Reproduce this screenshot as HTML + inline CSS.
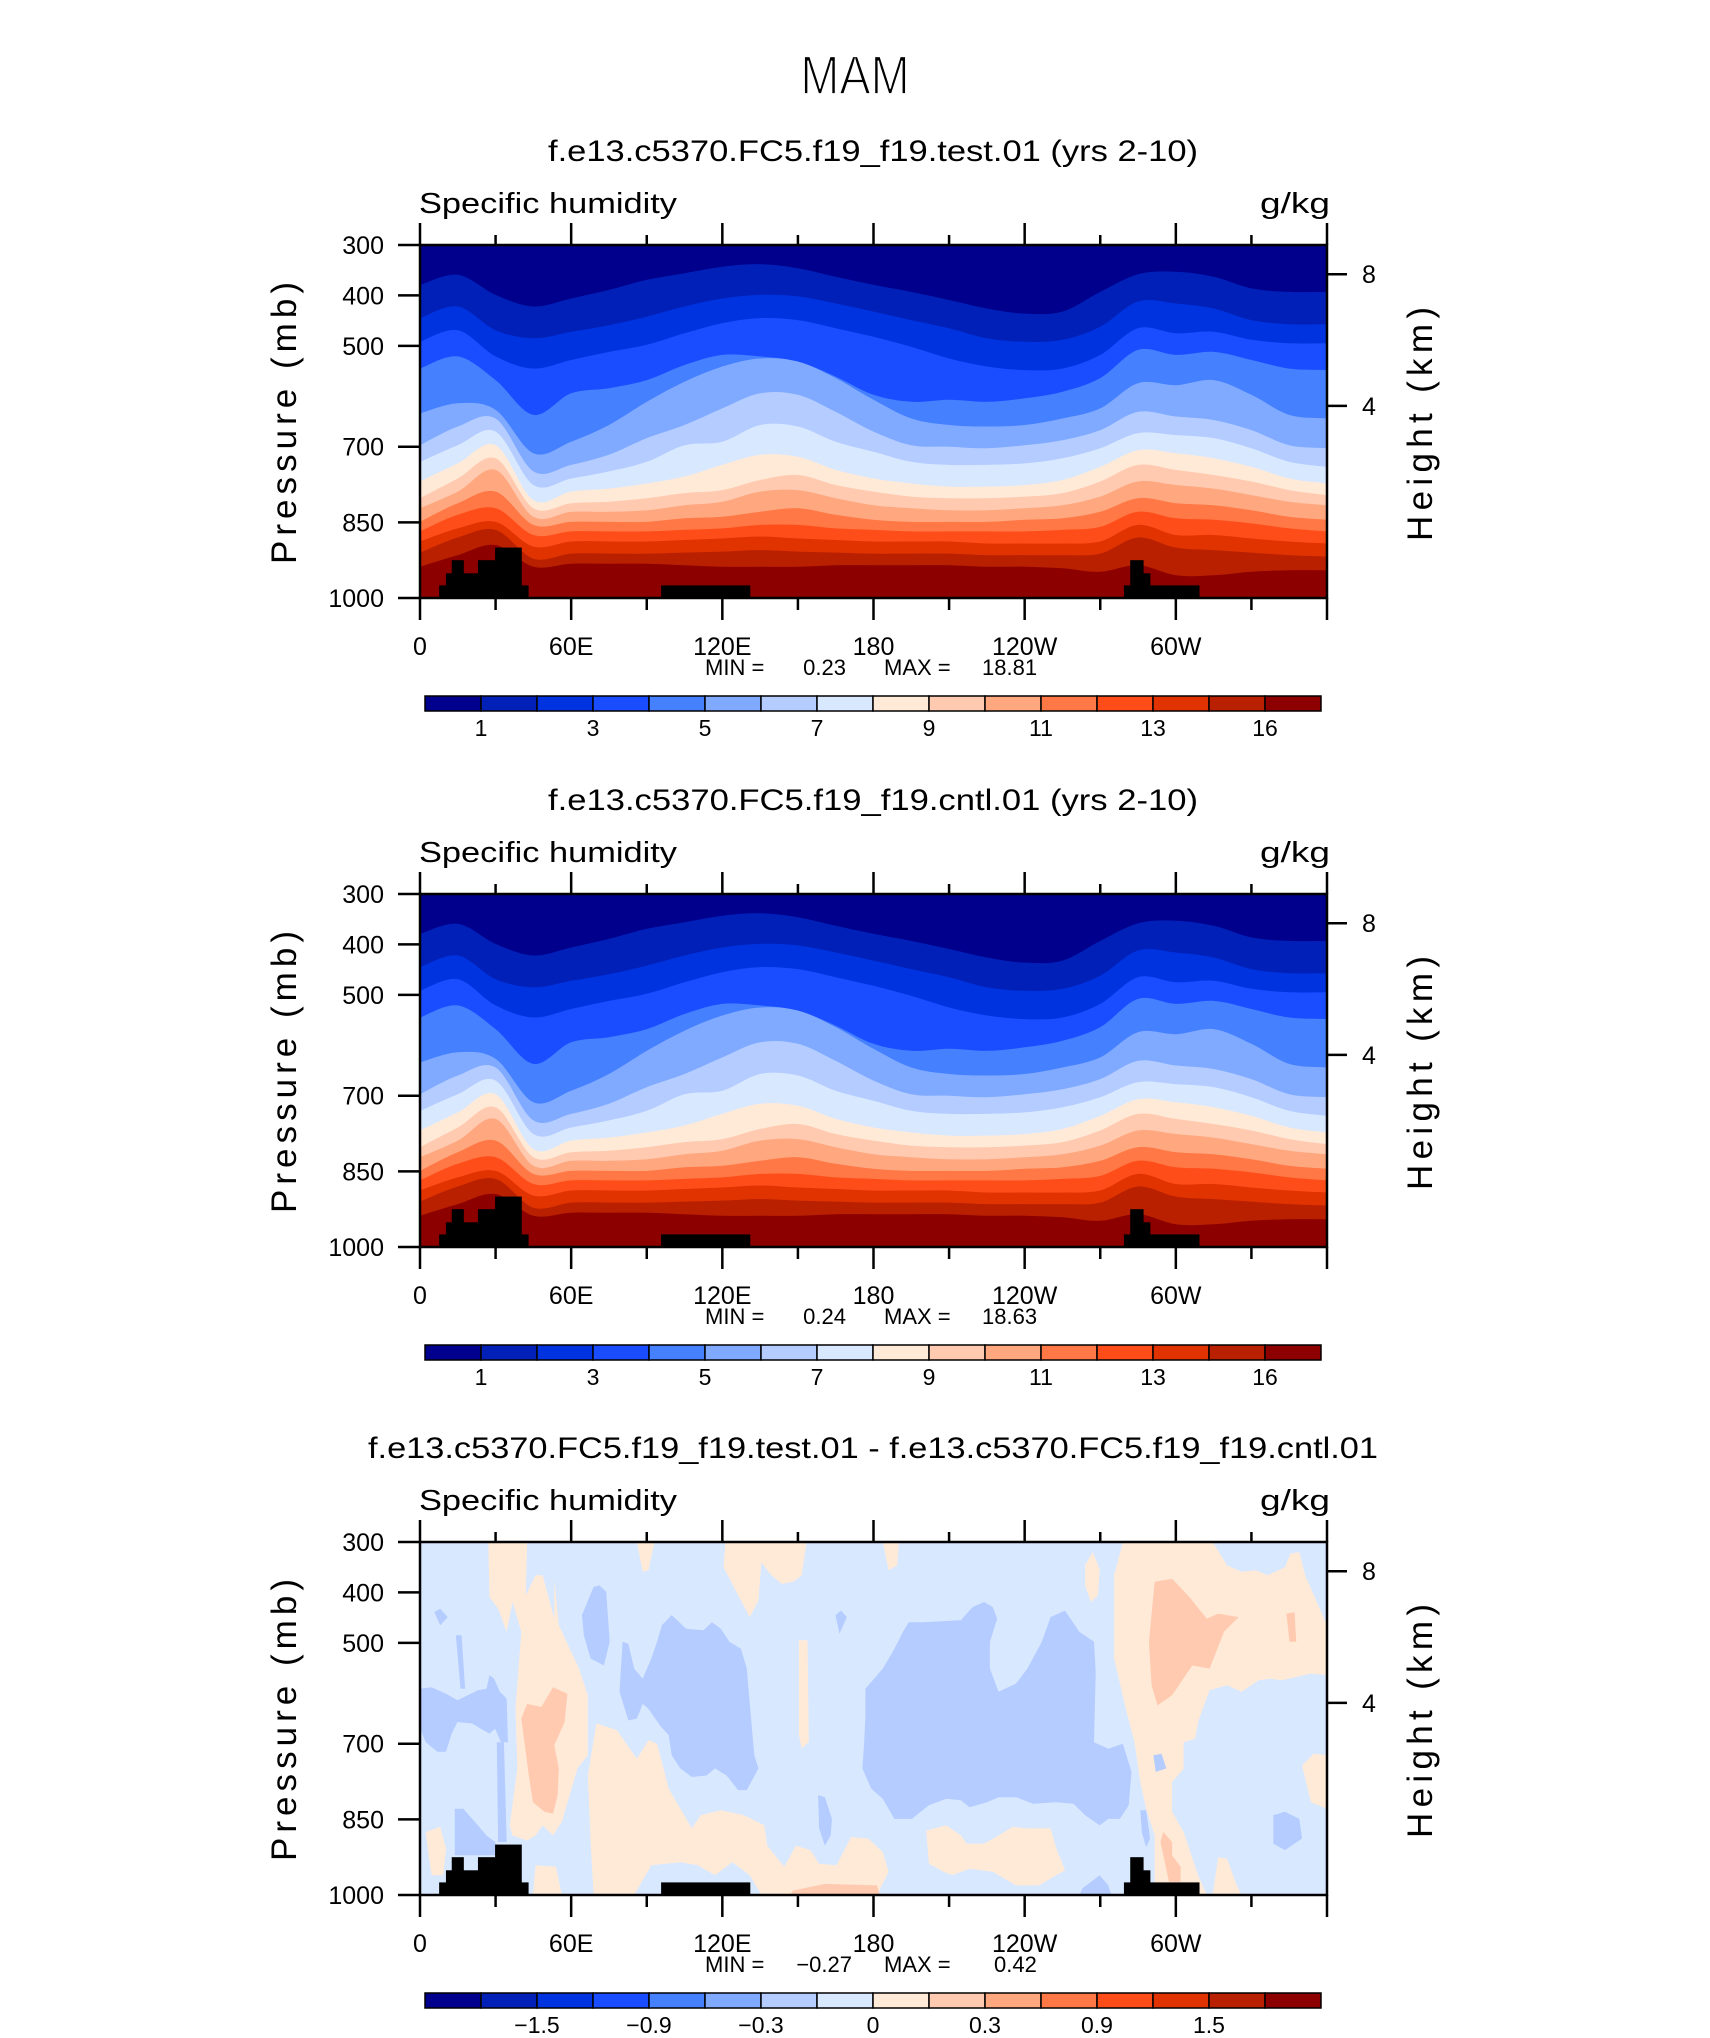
<!DOCTYPE html>
<html><head><meta charset="utf-8"><style>
html,body{margin:0;padding:0;background:#fff;}
svg{display:block;font-family:"Liberation Sans","DejaVu Sans",sans-serif;}
</style></head><body>
<svg id="fig" width="1710" height="2038" viewBox="0 0 1710 2038" xmlns="http://www.w3.org/2000/svg">
<rect width="1710" height="2038" fill="#fff"/>
<text x="855" y="94" font-size="52" text-anchor="middle" fill="#000" stroke="#fff" stroke-width="1.6" transform="translate(855,94) scale(0.9,1.05) translate(-855,-94)">MAM</text>
</svg>
<script>
// ---- data ----
const lons = [0,15,30,45,60,75,90,105,120,135,150,165,180,195,210,225,240,255,270,285,300,315,330,345,360];
const b1 = [379,359,399,422,406,389,369,356,343,338,346,363,379,393,409,426,436,432,393,358,353,363,386,393,393];
const b2 = [445,422,469,485,472,459,442,422,406,399,402,416,432,449,465,485,492,488,462,412,416,426,449,457,457];
const b3 = [492,469,521,545,528,512,498,475,455,445,449,465,482,502,525,541,548,545,518,465,475,472,488,495,495];
const b4 = [545,521,568,637,594,584,568,538,518,521,531,561,597,611,607,611,604,591,564,508,518,512,528,545,548];
const b5 = [634,614,627,713,690,657,611,571,541,525,531,564,607,644,657,660,657,644,624,574,578,568,597,637,644];
const b6 = [697,660,644,749,736,716,683,657,624,594,597,631,670,697,700,703,697,687,667,631,640,647,667,697,703];
const b7 = [730,697,670,776,763,749,730,697,690,657,660,690,710,730,736,736,733,723,703,673,677,683,703,730,740];
const b8 = [769,733,697,806,789,783,773,759,736,716,720,746,763,773,779,779,776,766,740,707,713,723,740,763,773];
const b9 = [802,763,723,822,812,809,802,792,786,766,756,776,789,799,802,802,799,792,769,736,746,756,769,786,796];
const b10 = [822,789,746,839,829,829,826,816,809,789,786,802,816,822,826,826,822,816,799,769,776,783,796,809,816];
const b11 = [849,812,789,855,849,849,849,842,839,829,822,835,845,849,849,849,845,842,829,802,812,816,826,839,845];
const b12 = [868,835,822,875,868,868,868,865,862,855,855,862,865,868,868,868,868,865,859,829,842,845,852,862,868];
const b13 = [888,862,849,898,888,888,888,885,882,878,882,885,888,888,888,892,892,892,888,855,875,875,882,888,892];
const b14 = [910,880,865,922,912,912,912,910,908,905,908,910,912,912,912,915,915,915,912,880,900,905,910,915,918];
const b15 = [938,915,895,938,932,932,932,935,938,938,938,935,935,935,935,938,938,941,948,935,955,955,948,945,945];
const bounds = [b1,b2,b3,b4,b5,b6,b7,b8,b9,b10,b11,b12,b13,b14,b15];
const palette = ["#00008C","#0020B8","#0033E0","#1A4DFF","#4580FF","#80AAFF","#B4CCFF","#D8E8FF","#FFEAD8","#FFCAB0","#FFA880","#FF7845","#FF4D1A","#E03300","#B82000","#8C0000"];
const cbLabelsAbs = ["1","3","5","7","9","11","13","16"];
const cbLabelIdxAbs = [1,3,5,7,9,11,13,15];
const cbLabelsDiff = ["\u22121.5","\u22120.9","\u22120.3","0","0.3","0.9","1.5"];
const cbLabelIdxDiff = [2,4,6,8,10,12,14];
const topoLon0 = [7.6,10.3,12.6,17.2,23,29.8,40.2,95.7,279.4,281.9,287,289.7];
const topoLon1 = [10.3,12.6,17.2,23,29.8,40.2,42.9,130.9,281.9,287,289.7,309.2];
const topoTop = [975,951,925,951,925,900,975,975,975,925,951,975];
const pTicks = [300,400,500,700,850,1000];
const kmTicks = ["8","4"];
const kmTickP = [358,619];
const xTickLon = [0,60,120,180,240,300];
const xTickLab = ["0","60E","120E","180","120W","60W"];
// difference blobs (lon, p)
const posLight = [
 [[27.1,300],[42.5,300],[42,406],[45.9,366],[48.7,366],[53.3,452],[53.3,373],[55.1,465],[63.1,551],[66.6,604],[66.6,723],[62.5,749],[56.3,855],[52.8,882],[48.7,862],[45.9,882],[42.5,892],[36.7,882],[35.6,862],[38.6,749],[37.9,630],[40.2,478],[36.7,419],[34.4,478],[31,432],[27.6,409]],
 [[70,660],[78.1,673],[86.1,730],[90.7,693],[94.1,700],[98.7,789],[107.9,868],[111.4,842],[119.4,832],[128.6,842],[136.6,862],[137.8,902],[144.6,944],[149.2,902],[155,911],[158.4,938],[165.3,941],[171.1,885],[177.9,888],[183.7,915],[186,954],[181.4,1000],[135.5,1000],[130.9,961],[124,935],[117.1,961],[110.2,941],[103.3,935],[91.8,941],[85,1000],[68.9,1000],[67.7,895],[66.6,763]],
 [[86.1,300],[93,300],[90.7,356],[88.4,359]],
 [[121.2,300],[153.4,300],[151.5,366],[148.1,379],[143.5,383],[138.9,363],[135.5,340],[134.3,416],[130.9,449],[126.3,406],[120.5,350]],
 [[183.7,300],[190.1,300],[189.4,346],[186,356]],
 [[150.4,495],[153.8,495],[154.3,697],[151.5,710],[150.4,683]],
 [[264,346],[267,320],[269.8,353],[269.1,406],[266.3,419],[264,386]],
 [[200.9,872],[208.9,862],[214.7,882],[217,898],[223.9,898],[229.6,882],[235.3,865],[241.1,868],[250.3,868],[252.6,908],[256,951],[245.7,981],[236.5,981],[227.3,954],[218.1,948],[211.2,961],[207.8,954],[202,938]],
 [[279,300],[314.6,300],[320.3,346],[326,359],[331.8,356],[336.4,366],[343.3,350],[345.5,323],[349,320],[351.3,366],[360,465],[360,564],[353.6,561],[342.1,574],[337.5,571],[332.9,574],[326,597],[320.3,584],[313.4,594],[308.8,657],[307.7,690],[303.1,697],[303.1,750],[298.5,776],[298.5,835],[303.1,875],[308.8,961],[312.3,1000],[291.6,1000],[291.6,882],[288.2,829],[285.9,776],[283.6,697],[280.1,630],[275.5,531],[275.5,366]],
 [[350.1,743],[354.7,720],[360,723],[360,829],[353.6,816]],
 [[316.8,925],[320.3,928],[323.7,974],[326,1000],[314.6,1000]],
 [[2.3,875],[8,865],[10.3,908],[9.2,961],[4.6,961],[3.4,921]],
 [[45.9,941],[54,944],[56.3,1000],[44.8,1000]]
];
const negBlobs = [
 [[0,591],[4.6,588],[10.3,601],[14.9,614],[23,594],[26.4,591],[27.6,564],[29.4,571],[31.7,597],[34.4,611],[34.9,697],[32.1,697],[29.8,670],[27.6,680],[24.1,670],[20.7,660],[14.9,657],[12.6,680],[10.3,716],[6.9,716],[2.3,697],[0,670]],
 [[14.2,485],[16.5,485],[17.9,591],[16.1,591]],
 [[30.5,697],[33.3,697],[34.4,895],[31,895]],
 [[13.8,829],[17.2,829],[23,862],[26.4,882],[29.8,895],[31,921],[13.8,921]],
 [[5.7,439],[8,432],[11,449],[8,465]],
 [[64.3,445],[68.9,389],[71.2,386],[73.9,399],[75.3,498],[73,545],[67.7,531],[65,485]],
 [[80.4,498],[82.7,502],[85,551],[88.4,571],[91.8,531],[94.1,498],[96,465],[99.9,445],[105.6,472],[112.5,475],[115.9,459],[119.4,472],[122.8,498],[127.4,512],[129.7,551],[131.3,644],[132.7,723],[134.3,749],[129.7,792],[126.3,792],[121.7,763],[117.1,749],[113.7,763],[107.9,766],[103.3,749],[99.9,723],[98.7,683],[95.3,664],[90.7,631],[88.4,621],[86.1,650],[82.7,654],[79.2,597]],
 [[164.9,445],[167.1,436],[169.4,449],[166.5,482]],
 [[176.8,591],[183.7,551],[188.3,512],[191.7,478],[194,459],[199.7,459],[214.7,455],[219.3,429],[223.9,419],[227.3,429],[229.1,452],[226.2,498],[226.2,551],[229.6,597],[236.5,581],[241.1,551],[246.8,498],[250.3,449],[256,436],[261.7,478],[267.5,498],[268.2,558],[267.5,697],[273.2,710],[279,700],[282.4,756],[281.3,822],[277.8,849],[273.2,849],[269.8,862],[264,842],[259.4,819],[252.6,816],[243.4,819],[236.5,806],[229.6,806],[225,816],[218.1,826],[214.7,812],[208.9,809],[202,822],[195.2,849],[188.3,849],[183.7,809],[179.1,789],[175.6,749],[176.3,697],[176.8,644]],
 [[158,802],[160.7,806],[163.5,849],[163,882],[160.7,902],[158.4,868]],
 [[338.7,842],[343.3,835],[349,849],[350.1,888],[343.3,911],[338.7,898]],
 [[291.1,723],[294.3,720],[296.2,749],[292,756]],
 [[262.9,987],[269.8,961],[273.2,981],[274.4,1000],[261.8,1000]],
 [[285.9,832],[288.2,832],[289.8,888],[288.2,905],[286.5,875]]
];
const posMed = [
 [[40.2,650],[42.5,621],[48.2,627],[52.8,588],[58.5,601],[57.4,657],[53.3,703],[55.1,749],[54.6,802],[52.8,839],[49.4,835],[44.8,816],[43.2,763]],
 [[148.1,991],[160.7,978],[181.4,981],[182.5,1000],[146.9,1000]],
 [[291.6,379],[298.5,373],[305.4,409],[312.3,452],[316.8,442],[324.9,449],[319.1,478],[313.4,551],[306.5,545],[298.5,604],[292.7,624],[290.4,584],[289.3,498]],
 [[343.9,442],[347.1,439],[347.8,498],[345.1,498]],
 [[295,875],[298.5,895],[298.5,921],[301.9,944],[301.9,974],[297.3,974],[293.9,895]]
];
const panelTitles = ["f.e13.c5370.FC5.f19_f19.test.01 (yrs 2-10)","f.e13.c5370.FC5.f19_f19.cntl.01 (yrs 2-10)","f.e13.c5370.FC5.f19_f19.test.01 - f.e13.c5370.FC5.f19_f19.cntl.01"];
const minVals = ["0.23","0.24","\u22120.27"];
const maxVals = ["18.81","18.63","0.42"];

// ---- layout ----
const NS = "http://www.w3.org/2000/svg";
const svg = document.getElementById("fig");
const X0 = 420, X1 = 1327, PT = 245, PB = 598;
function xs(lon){ return X0 + lon/360*(X1-X0); }
function ys(p, off){ return off + PT + (p-300)/700*(PB-PT); }
function mk(tag, attrs, parent){
  const e = document.createElementNS(NS, tag);
  for (const k in attrs) e.setAttribute(k, attrs[k]);
  (parent||svg).appendChild(e);
  return e;
}
function smoothPath(pts){
  let d = "";
  for (let i=0;i<pts.length-1;i++){
    const p0 = pts[Math.max(0,i-1)], p1 = pts[i], p2 = pts[i+1], p3 = pts[Math.min(pts.length-1,i+2)];
    const c1x = p1[0]+(p2[0]-p0[0])/6, c1y = p1[1]+(p2[1]-p0[1])/6;
    const c2x = p2[0]-(p3[0]-p1[0])/6, c2y = p2[1]-(p3[1]-p1[1])/6;
    d += " C"+c1x.toFixed(1)+","+c1y.toFixed(1)+" "+c2x.toFixed(1)+","+c2y.toFixed(1)+" "+p2[0].toFixed(1)+","+p2[1].toFixed(1);
  }
  return d;
}
function text(str, x, y, size, anchor, g){
  const t = mk("text", {x:x, y:y, "font-size":size, "text-anchor":anchor||"start", fill:"#000"}, g);
  t.textContent = str;
  return t;
}

const offs = [0, 649, 1297];
offs.forEach(function(off, pi){
  const g = mk("g", {});
  
  
  const clipId = "clip"+pi;
  const cp = mk("clipPath", {id:clipId}, g);
  mk("rect", {x:X0, y:off+PT, width:X1-X0, height:PB-PT}, cp);
  const plot = mk("g", {"clip-path":"url(#"+clipId+")"}, g);
  
  
  if (pi < 2){
    const bg = mk("rect", {x:X0, y:off+PT, width:X1-X0, height:PB-PT, fill:palette[15]}, plot);
    
    
    for (let k = bounds.length-1; k >= 0; k--){
      const pts = lons.map(function(l,i){ return [xs(l), ys(bounds[k][i], off)]; });
      let d = "M"+X0+","+(off+PT)+" L"+pts[0][0]+","+pts[0][1]+smoothPath(pts)+" L"+X1+","+(off+PT)+" Z";
      const band = mk("path", {d:d, fill:palette[k]}, plot);
      
      
    }
  } else {
    const bg = mk("rect", {x:X0, y:off+PT, width:X1-X0, height:PB-PT, fill:"#D8E8FF"}, plot);
    
    
    function blob(list, color, name){
      list.forEach(function(poly){
        const d = "M" + poly.map(function(q){ return xs(q[0]).toFixed(1)+","+ys(q[1],off).toFixed(1); }).join(" L") + " Z";
        const e = mk("path", {d:d, fill:color}, plot);
        
        
      });
    }
    blob(posLight, "#FFEAD8", "positive-region");
    blob(negBlobs, "#B4CCFF", "negative-region");
    blob(posMed, "#FFCAB0", "positive-strong-region");
  }
  // topography
  for (let i=0;i<topoLon0.length;i++){
    const r = mk("rect", {x:xs(topoLon0[i]), y:ys(topoTop[i],off), width:xs(topoLon1[i])-xs(topoLon0[i])+0.5, height:ys(1000,off)-ys(topoTop[i],off), fill:"#000"}, plot);
    
    
  }
  // frame
  const fr = mk("rect", {x:X0, y:off+PT, width:X1-X0, height:PB-PT, fill:"none", stroke:"#000", "stroke-width":2.5}, g);
  
  
  // pressure ticks
  pTicks.forEach(function(p){
    const y = ys(p, off);
    const tk = mk("line", {x1:X0-22, y1:y, x2:X0, y2:y, stroke:"#000", "stroke-width":2.5}, g);
    
    
    const t = text(String(p), 384, y+9, 25, "end", g);
    
    
  });
  // km ticks
  kmTicks.forEach(function(lab, i){
    const y = ys(kmTickP[i], off);
    const tk = mk("line", {x1:X1, y1:y, x2:X1+20, y2:y, stroke:"#000", "stroke-width":2.5}, g);
    
    
    const t = text(lab, 1362, y+9, 25, "start", g);
    
    
  });
  // x ticks
  for (let lon=0; lon<=360; lon+=30){
    const x = xs(lon), major = (lon%60===0);
    const t1 = mk("line", {x1:x, y1:off+PT, x2:x, y2:off+PT-(major?22:10), stroke:"#000", "stroke-width":2.5}, g);
    
    
    const t2 = mk("line", {x1:x, y1:off+PB, x2:x, y2:off+PB+(major?22:12), stroke:"#000", "stroke-width":2.5}, g);
    
    
  }
  xTickLon.forEach(function(l, i){
    const t = text(xTickLab[i], xs(l), off+655, 25, "middle", g);
    
    
  });
  // titles
  const tt = text(panelTitles[pi], 873, off+161, 30, "middle", g);
  tt.setAttribute('textLength', pi===2 ? 1010 : 650);
  tt.setAttribute('lengthAdjust', 'spacingAndGlyphs');
  
  
  const vs = text("Specific humidity", 419, off+213, 29, "start", g);
  vs.setAttribute('textLength', 258);
  vs.setAttribute('lengthAdjust', 'spacingAndGlyphs');
  
  
  const un = text("g/kg", 1330, off+213, 29, "end", g);
  un.setAttribute('textLength', 70);
  un.setAttribute('lengthAdjust', 'spacingAndGlyphs');
  
  
  const yt = text("Pressure  (mb)", 0, 0, 35, "middle", g);
  yt.setAttribute('transform', 'translate(296,'+(off+423)+') rotate(-90)');
  yt.setAttribute('textLength', 282);
  
  
  const rt = text("Height  (km)", 0, 0, 35, "middle", g);
  rt.setAttribute('transform', 'translate(1432,'+(off+424)+') rotate(-90)');
  rt.setAttribute('textLength', 234);
  
  
  // min/max
  const m1 = text("MIN =", 705, off+675, 22, "start", g);
  
  
  const m2 = text(minVals[pi], pi===2?852:846, off+675, 22, "end", g);
  
  
  const m3 = text("MAX =", 884, off+675, 22, "start", g);
  
  
  const m4 = text(maxVals[pi], pi===2?994:982, off+675, 22, "start", g);
  
  
  // colorbar
  const cb = mk("g", {}, g);
  
  
  const CB0 = 425, CBW = 896/16, CBY = off+696, CBH = 15;
  palette.forEach(function(c, i){
    const r = mk("rect", {x:CB0+i*CBW, y:CBY, width:CBW, height:CBH, fill:c, stroke:"#000", "stroke-width":1.5}, cb);
    
    
  });
  const labs = pi<2 ? cbLabelsAbs : cbLabelsDiff;
  const idx = pi<2 ? cbLabelIdxAbs : cbLabelIdxDiff;
  labs.forEach(function(s, i){
    const t = text(s, CB0+idx[i]*CBW, off+736, 23, "middle", cb);
    
    
  });
});
</script>
</body></html>
